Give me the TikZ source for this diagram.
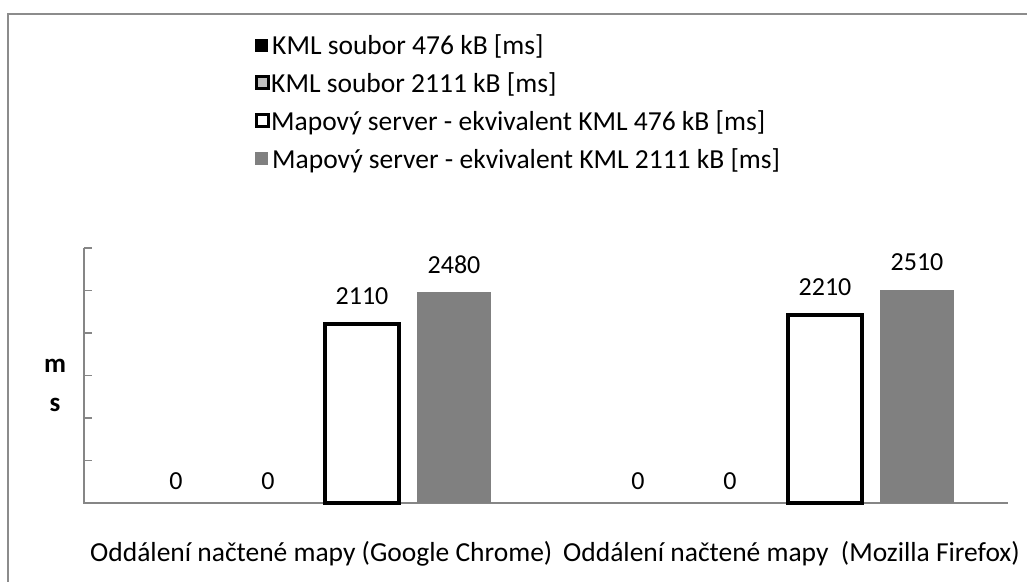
\documentclass[tikz,border=0pt]{standalone}
\usepackage{fontspec}
\setmainfont{Carlito}
\definecolor{framegray}{HTML}{8C8C8C}
\definecolor{axisgray}{HTML}{868686}
\definecolor{bargray}{HTML}{808080}
\definecolor{lightfill}{HTML}{C0C0C0}
\begin{document}
\begin{tikzpicture}[x=1pt,y=-1pt,
  every node/.style={inner sep=0pt, font=\fontsize{26}{30}\selectfont},
  bigtext/.style={font=\fontsize{27.5}{32}\selectfont},
  frameline/.style={draw=framegray, line width=2.5pt},
  axisline/.style={draw=axisgray, line width=1.6pt},
  whitebar/.style={draw=black, fill=white, line width=4pt},
  graybar/.style={fill=bargray},
  vlabel/.style={anchor=center},
  legtext/.style={bigtext, anchor=base west},
  legmark/.style={draw=black, line width=3pt},
  catlabel/.style={bigtext}]
\useasboundingbox (0,0) rectangle (1027,581);
% outer chart frame (cut by the page on right and bottom)
\draw[frameline] (8,600) -- (8,14) -- (1040,14);
% axes
\draw[axisline] (84,248) -- (84,503) -- (1008,503);
\foreach \t in {0,...,5}{
  \draw[axisline] (84,{248+\t*42.5}) -- (92,{248+\t*42.5});
}
% axis title
\node[font=\fontsize{27}{30}\selectfont\bfseries] (ym) at (55,366) {m};
\node[font=\fontsize{27}{30}\selectfont\bfseries] (ys) at (55,405) {s};
% bars - Chrome
\draw[whitebar] (325,503) rectangle (399,323.6);
\fill[graybar] (417,503) rectangle (491,292.2);
% bars - Firefox
\draw[whitebar] (788,503) rectangle (862,315.2);
\fill[graybar] (880,503) rectangle (954,289.6);
% value labels
\node[vlabel] (c1) at (176,481) {0};
\node[vlabel] (c2) at (268,481) {0};
\node[vlabel] (c3) at (362,296) {2110};
\node[vlabel] (c4) at (454,265) {2480};
\node[vlabel] (f1) at (638,481) {0};
\node[vlabel] (f2) at (730,481) {0};
\node[vlabel] (f3) at (825,287) {2210};
\node[vlabel] (f4) at (917,262) {2510};
% category labels
\node[catlabel, anchor=base west] (cat1) at (90,561) {Oddálení načtené mapy (Google Chrome)};
\node[catlabel, anchor=base east] (cat2) at (1020,561) {Oddálení načtené mapy\ \ (Mozilla Firefox)};
% legend
\fill[black] (255,38.5) rectangle (268,51.5);
\node[legtext] (l1) at (272,54) {KML soubor 476 kB [ms]};
\draw[legmark, fill=lightfill] (256,76) rectangle (268,88);
\node[legtext] (l2) at (271,92) {KML soubor 2111 kB [ms]};
\draw[legmark, fill=white] (256,114) rectangle (268,126);
\node[legtext] (l3) at (271,130) {Mapový server - ekvivalent KML 476 kB [ms]};
\fill[bargray] (255,151.5) rectangle (268,164.5);
\node[legtext] (l4) at (272,168) {Mapový server - ekvivalent KML 2111 kB [ms]};
\end{tikzpicture}
\end{document}
